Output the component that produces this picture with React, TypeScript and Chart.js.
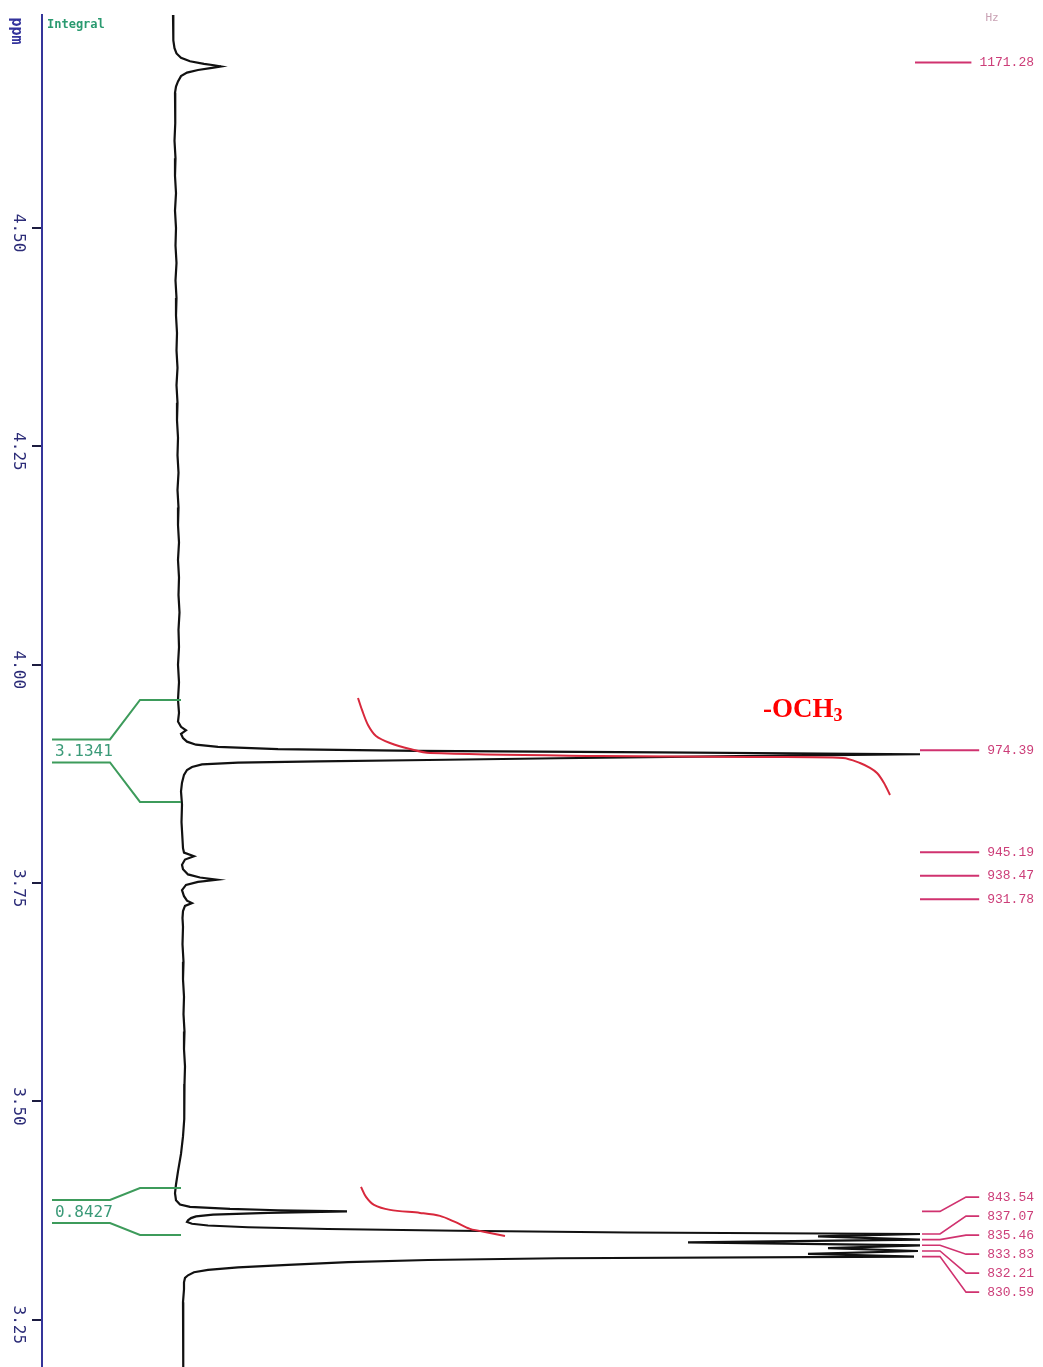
import { useEffect, useRef } from "react";
import { Chart, registerables } from "chart.js";

Chart.register(...registerables);

// 1H NMR, 250 MHz: region 3.2 - 4.75 ppm drawn vertically
const SPECTROMETER_MHZ = 250;

const ppmMin = 3.196;
const ppmMax = 4.744;
const intensityMin = -136;
const intensityMax = 865;

const ppmTicks = [4.5, 4.25, 4.0, 3.75, 3.5, 3.25];

// Picked peaks (Hz) and their heights
const peakHz = [1171.28, 974.39, 945.19, 938.47, 931.78, 843.54, 837.07, 835.46, 833.83, 832.21, 830.59];
const peakHeight = [43, 742, 16, 39, 14, 169, 742, 742, 742, 740, 736];

// Trace between the picked peaks (ppm, intensity)
const tracePpm = [
  4.744, 4.735, 4.725, 4.715, 4.706, 4.7, 4.695, 4.691, 4.688, 4.6865,
  4.6835, 4.681, 4.678, 4.674, 4.668, 4.662, 4.655, 4.64, 4.62, 4.6,
  4.58, 4.56, 4.54, 4.52, 4.5, 4.48, 4.46, 4.44, 4.42, 4.4,
  4.38, 4.36, 4.34, 4.32, 4.3, 4.28, 4.26, 4.24, 4.22, 4.2,
  4.18, 4.16, 4.14, 4.12, 4.1, 4.08, 4.06, 4.04, 4.02, 4.0,
  3.98, 3.96, 3.945, 3.935, 3.929, 3.925, 3.921, 3.916, 3.912, 3.9085,
  3.906, 3.9035, 3.9015, 3.8998,
  3.8955, 3.893, 3.891, 3.8895, 3.888, 3.886, 3.883, 3.8795, 3.874, 3.865,
  3.855, 3.84, 3.82, 3.8, 3.79, 3.785,
  3.777, 3.771, 3.766, 3.76, 3.7565,
  3.7515, 3.748, 3.742, 3.735, 3.73,
  3.724, 3.718, 3.71, 3.7, 3.68, 3.66, 3.64, 3.62, 3.6, 3.58,
  3.56, 3.54, 3.52, 3.5, 3.48, 3.46, 3.44, 3.42, 3.405, 3.395,
  3.387, 3.382, 3.3793, 3.377, 3.3755,
  3.3725, 3.3705, 3.3685, 3.3665, 3.364, 3.362, 3.36, 3.358, 3.356, 3.354,
  3.352, 3.35,
  3.3455, 3.3386, 3.332, 3.3256,
  3.3205, 3.3185, 3.316, 3.313, 3.31, 3.3072, 3.3045, 3.301, 3.298, 3.293,
  3.285, 3.27, 3.25, 3.23, 3.21, 3.196,
];
const traceIntensity = [
  -5, -4.5, -5, -4.5, -3.5, -1.5, 3, 12, 26, 36,
  34, 20, 9, 3, 0, -2, -3, -3, -2.5, -3.5,
  -2.5, -3, -2, -3, -2, -2.5, -1.5, -2.5, -1.5, -2,
  -1, -1.5, -0.5, -1.5, -0.5, -1, 0, -0.5, 0.5, -0.5,
  0.5, 0, 1, 0, 1, 0.5, 1.5, 0.5, 1, 0,
  1, 0, 1, 0, 3, 8, 3, 5, 9, 18,
  40, 100, 240, 480,
  560, 380, 250, 140, 60, 24, 14, 9, 6, 4,
  3, 4, 3.5, 4.5, 5, 6,
  7, 4, 5, 10, 22,
  20, 8, 4, 6, 9,
  7, 5, 4.5, 5, 4.5, 5.5, 5, 6, 5.5, 6.5,
  6, 7, 6.5, 6, 6.5, 5, 3, 0, -2, -3,
  -2, 2, 12, 52, 100,
  90, 35, 18, 13, 10, 9, 14, 30, 70, 150,
  280, 450,
  640, 510, 650, 630,
  380, 250, 170, 110, 60, 30, 16, 10, 7, 6,
  6, 5, 5.5, 5, 5.5, 5,
];

// Integrated regions
const integralFromPpm = [3.9597, 3.401];
const integralToPpm = [3.843, 3.3472];
const integralValues = [3.1341, 0.8427];

// Integral curves
const integral1Ppm = [3.962, 3.9483, 3.9311, 3.9185, 3.9105, 3.9036, 3.899, 3.8956, 3.8944, 3.8933, 3.8876, 3.8819, 3.8761, 3.8647, 3.851];
const integral1Level = [180, 184, 190, 198, 212, 232, 252, 422, 572, 665, 682, 692, 699, 706, 712];
const integral2Ppm = [3.4022, 3.3907, 3.3816, 3.3759, 3.3724, 3.369, 3.3621, 3.3541, 3.3495, 3.3461];
const integral2Level = [183, 188, 196, 212, 242, 262, 277, 292, 312, 327];

const GROUP_LABEL = "-OCH";
const GROUP_SUB = "3";

function buildTrace() {
  const pts = tracePpm.map((p, i) => ({ x: traceIntensity[i], y: p }));
  peakHz.forEach((hz, i) => pts.push({ x: peakHeight[i], y: hz / SPECTROMETER_MHZ }));
  pts.sort((a, b) => b.y - a.y);
  return pts;
}

const annotationPlugin = {
  id: "nmrAnnotations",
  afterDraw(chart: any) {
    const { ctx } = chart;
    const xs = chart.scales.x;
    const ys = chart.scales.y;
    const px = (v: number) => xs.getPixelForValue(v);
    const py = (v: number) => ys.getPixelForValue(v);
    ctx.save();

    // ppm tick labels, rotated
    ctx.fillStyle = "#2c2c78";
    ctx.font = '16px "DejaVu Sans Mono"';
    ctx.textAlign = "center";
    ctx.textBaseline = "middle";
    ys.ticks.forEach((t: any) => {
      const y = py(t.value);
      ctx.save();
      ctx.translate(18, y + 5);
      ctx.rotate(Math.PI / 2);
      ctx.fillText(t.value.toFixed(2), 0, 0);
      ctx.restore();
    });

    // axis unit
    ctx.save();
    ctx.fillStyle = "#34349c";
    ctx.font = 'bold 15px "DejaVu Sans Mono"';
    ctx.translate(16, 31);
    ctx.rotate(Math.PI / 2);
    ctx.fillText("ppm", 0, 0);
    ctx.restore();

    // integral title
    ctx.fillStyle = "#2a9a70";
    ctx.font = 'bold 12px "DejaVu Sans Mono"';
    ctx.textAlign = "left";
    ctx.fillText("Integral", 47, 25);

    // integral brackets
    ctx.strokeStyle = "#3d9b5b";
    ctx.lineWidth = 2;
    integralFromPpm.forEach((from, i) => {
      const yTop = py(from);
      const yBot = py(integralToPpm[i]);
      const mid = (yTop + yBot) / 2;
      const bTop = mid - 11.5;
      const bBot = mid + 11.5;
      const xEnd = px(3);
      const xDiag = px(-38);
      const xBox = px(-68);
      const xLeft = px(-126);
      ctx.beginPath();
      ctx.moveTo(xEnd, yTop);
      ctx.lineTo(xDiag, yTop);
      ctx.lineTo(xBox, bTop);
      ctx.lineTo(xLeft, bTop);
      ctx.moveTo(xEnd, yBot);
      ctx.lineTo(xDiag, yBot);
      ctx.lineTo(xBox, bBot);
      ctx.lineTo(xLeft, bBot);
      ctx.stroke();
      ctx.fillStyle = "#3a9a78";
      ctx.font = '16px "DejaVu Sans Mono"';
      ctx.textAlign = "left";
      ctx.textBaseline = "middle";
      ctx.fillText(integralValues[i].toFixed(4), xLeft + 3, mid + 1);
    });

    // peak labels (Hz)
    ctx.fillStyle = "#c9a2b4";
    ctx.font = '11px "DejaVu Sans Mono"';
    ctx.textAlign = "center";
    ctx.fillText("Hz", 992, 18);

    const peakY = peakHz.map((hz) => py(hz / SPECTROMETER_MHZ));
    const gap = 19;
    // merge labels that would overlap into evenly spaced blocks
    let blocks = peakY.map((y, i) => ({ idx: [i], center: y - 4 }));
    let merged = true;
    while (merged) {
      merged = false;
      for (let b = 0; b < blocks.length - 1; b++) {
        const a = blocks[b];
        const c = blocks[b + 1];
        const aBottom = a.center + ((a.idx.length - 1) / 2) * gap;
        const cTop = c.center - ((c.idx.length - 1) / 2) * gap;
        if (cTop - aBottom < gap) {
          const idx = a.idx.concat(c.idx);
          const mean = idx.reduce((s, k) => s + peakY[k], 0) / idx.length;
          blocks.splice(b, 2, { idx, center: mean + 5 });
          merged = true;
          break;
        }
      }
    }
    const textRight = 1034;
    const lineStart = px(742);
    ctx.font = '13px "Liberation Mono"';
    ctx.textAlign = "right";
    ctx.textBaseline = "middle";
    blocks.forEach((blk) => {
      const n = blk.idx.length;
      blk.idx.forEach((k, j) => {
        const ly = blk.center + (j - (n - 1) / 2) * gap;
        const label = peakHz[k].toFixed(2);
        const w = ctx.measureText(label).width;
        const lineEnd = textRight - w - 8;
        ctx.strokeStyle = "#d0326f";
        ctx.beginPath();
        if (n === 1) {
          ctx.lineWidth = 2;
          ctx.moveTo(lineStart - (label.length > 6 ? 5 : 0), ly);
          ctx.lineTo(lineEnd, ly);
        } else {
          ctx.lineWidth = 1.6;
          ctx.moveTo(lineStart + 2, peakY[k]);
          ctx.lineTo(lineStart + 20, peakY[k]);
          ctx.lineTo(lineStart + 46, ly);
          ctx.lineTo(lineEnd, ly);
        }
        ctx.stroke();
        ctx.fillStyle = "#cc3d78";
        ctx.fillText(label, textRight, ly);
      });
    });

    // functional group label
    const gx = px(585);
    const gy = peakY[1] - 37;
    ctx.fillStyle = "#ff0000";
    ctx.textAlign = "left";
    ctx.textBaseline = "alphabetic";
    ctx.font = 'bold 27px "Liberation Serif"';
    ctx.fillText(GROUP_LABEL, gx, gy);
    const gw = ctx.measureText(GROUP_LABEL).width;
    ctx.font = 'bold 18px "Liberation Serif"';
    ctx.fillText(GROUP_SUB, gx + gw, gy + 4);

    ctx.restore();
  },
};

export default function App() {
  const canvasRef = useRef<HTMLCanvasElement | null>(null);

  useEffect(() => {
    const canvas = canvasRef.current;
    if (!canvas) return;
    const chart = new Chart(canvas, {
      type: "scatter",
      data: {
        datasets: [
          {
            label: "Integral 1",
            data: integral1Ppm.map((p, i) => ({ x: integral1Level[i], y: p })),
            showLine: true,
            borderColor: "#d8283c",
            borderWidth: 2,
            pointRadius: 0,
            tension: 0.3,
          },
          {
            label: "Integral 2",
            data: integral2Ppm.map((p, i) => ({ x: integral2Level[i], y: p })),
            showLine: true,
            borderColor: "#d8283c",
            borderWidth: 2,
            pointRadius: 0,
            tension: 0.3,
          },
          {
            label: "Spectrum",
            data: buildTrace(),
            showLine: true,
            borderColor: "#111111",
            borderWidth: 2.2,
            pointRadius: 0,
            tension: 0,
          },
        ],
      },
      options: {
        responsive: false,
        animation: false,
        events: [],
        layout: { padding: { top: 15, left: 0, right: 0, bottom: 0 } },
        plugins: {
          legend: { display: false },
          tooltip: { enabled: false },
        },
        scales: {
          x: {
            type: "linear",
            min: intensityMin,
            max: intensityMax,
            display: false,
          },
          y: {
            type: "linear",
            position: "left",
            min: ppmMin,
            max: ppmMax,
            afterFit: (scale: any) => {
              scale.width = 42;
            },
            afterBuildTicks: (scale: any) => {
              scale.ticks = ppmTicks.map((v) => ({ value: v }));
            },
            border: { display: true, color: "#35359a", width: 2 },
            grid: {
              display: true,
              drawOnChartArea: false,
              drawTicks: true,
              tickLength: 10,
              color: "#1c1c40",
              lineWidth: 2,
            },
            ticks: { display: false },
          },
        },
      },
      plugins: [annotationPlugin],
    });
    return () => chart.destroy();
  }, []);

  return (
    <div style={{ position: "absolute", left: 0, top: 0, width: 1043, height: 1367, background: "#ffffff" }}>
      <canvas ref={canvasRef} width={1043} height={1367} style={{ display: "block" }} />
    </div>
  );
}
